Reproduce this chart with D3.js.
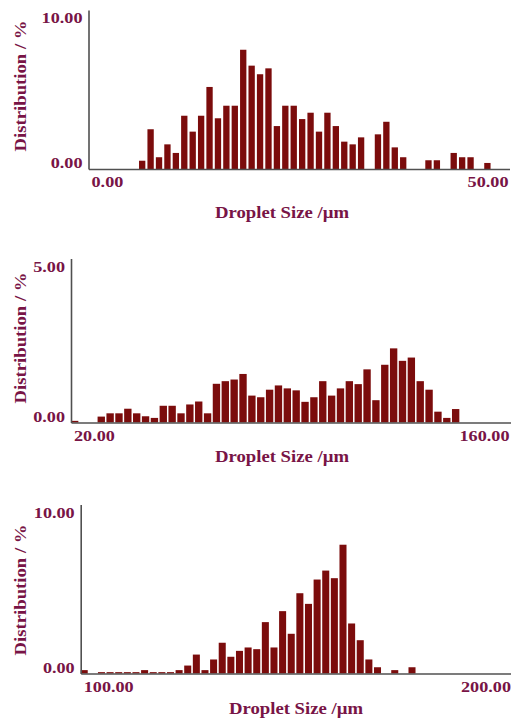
<!DOCTYPE html>
<html>
<head>
<meta charset="utf-8">
<script src="https://cdn.jsdelivr.net/npm/d3@7"></script>
<style>
  html, body { margin: 0; padding: 0; background: #fff; }
  svg { display: block; }
</style>
</head>
<body>
<svg id="chart" width="511" height="722"></svg>
<script>
// Droplet size distributions: 50 equal-width size classes per sample, % of droplets per class
const sizeRange1 = [0, 50];
const distribution1 = [
  0, 0, 0, 0, 0, 0, 0.52, 2.50, 0.74, 1.55,
  1.01, 3.35, 2.35, 3.35, 5.16, 3.19, 3.98, 3.98, 7.50, 6.50,
  5.96, 6.33, 2.70, 3.98, 3.98, 3.14, 3.54, 2.35, 3.54, 2.70,
  1.72, 1.55, 1.99, 0, 2.18, 2.97, 1.36, 0.74, 0, 0,
  0.55, 0.55, 0, 1.01, 0.74, 0.74, 0, 0.38, 0, 0
];
const yMax1 = 10;

const sizeRange2 = [20, 160];
const distribution2 = [
  0.05, 0, 0, 0.18, 0.28, 0.28, 0.42, 0.28, 0.19, 0.14,
  0.51, 0.51, 0.28, 0.55, 0.64, 0.28, 1.18, 1.26, 1.31, 1.48,
  0.82, 0.77, 1.00, 1.13, 1.04, 0.98, 0.63, 0.77, 1.26, 0.82,
  1.04, 1.26, 1.17, 1.62, 0.68, 1.76, 2.26, 1.88, 1.98, 1.26,
  1.00, 0.33, 0.14, 0.41, 0, 0, 0, 0, 0, 0
];
const yMax2 = 5;

const sizeRange3 = [100, 200];
const distribution3 = [
  0.20, 0, 0.08, 0.08, 0.08, 0.08, 0.08, 0.20, 0.08, 0.08,
  0.08, 0.20, 0.47, 1.12, 0.20, 0.83, 1.82, 0.99, 1.34, 1.54,
  1.44, 3.04, 1.54, 3.69, 2.35, 4.75, 4.12, 5.56, 6.09, 5.64,
  7.62, 2.96, 1.97, 0.83, 0.37, 0, 0.20, 0, 0.37, 0,
  0, 0, 0, 0, 0, 0, 0, 0, 0, 0
];
const yMax3 = 10;

const xAxisTitle = "Droplet Size /\u00b5m";
const yAxisTitle = "Distribution / %";

// Layout and styling of the three stacked panels
const layout = [
  { left: 88.5, right: 509.5, top: 10,    base: 169,   gap: 2.1, endLabelDx: -1.5, titleX: 282, titleY: 218, yTitleY: 86 },
  { left: 71,   right: 514,   top: 258.5, base: 422.5, gap: 1.5, endLabelDx: -5,   titleX: 282, titleY: 462, yTitleY: 338 },
  { left: 80.7, right: 512,   top: 504.5, base: 673.5, gap: 1.6, endLabelDx: -1.5, titleX: 296, titleY: 714, yTitleY: 590 }
];
const series = [
  { range: sizeRange1, values: distribution1, yMax: yMax1 },
  { range: sizeRange2, values: distribution2, yMax: yMax2 },
  { range: sizeRange3, values: distribution3, yMax: yMax3 }
];

const BAR = "#7b0c0c";
const TEXT = "#781446";
const AXIS = "#505050";
const FONT = "'Liberation Serif', 'Times New Roman', serif";
const fmt = d3.format(".2f");

const svg = d3.select("#chart");

series.forEach((s, k) => {
  const L = layout[k];
  const g = svg.append("g");
  const x = d3.scaleLinear().domain(s.range).range([L.left, L.right]);
  const y = d3.scaleLinear().domain([0, s.yMax]).range([L.base, L.top]);
  const n = s.values.length;
  const binW = (s.range[1] - s.range[0]) / n;

  // bars: each size class starts at its lower edge
  g.selectAll("rect.bar")
    .data(s.values.map((v, i) => ({ lo: s.range[0] + i * binW, hi: s.range[0] + (i + 1) * binW, v })))
    .join("rect")
    .attr("class", "bar")
    .attr("x", d => x(d.lo))
    .attr("width", d => x(d.hi) - x(d.lo) - L.gap)
    .attr("y", d => y(d.v))
    .attr("height", d => y(0) - y(d.v))
    .attr("fill", BAR);

  // x axis: baseline with end labels only
  const xAxis = g.append("g")
    .attr("transform", `translate(0,${L.base})`)
    .call(d3.axisBottom(x).tickValues(s.range).tickSize(0).tickSizeOuter(0).tickFormat(fmt));
  xAxis.select(".domain").attr("stroke", AXIS).attr("stroke-width", 1.6);
  xAxis.selectAll(".tick text")
    .attr("x", 0).attr("y", 0).attr("dy", null)
    .attr("fill", TEXT)
    .attr("font-family", FONT).attr("font-weight", "bold").attr("font-size", 14)
    .attr("text-anchor", (d, i) => i === 0 ? "start" : "end")
    .attr("transform", (d, i) => `translate(${i === 0 ? 2.5 : L.endLabelDx},18) scale(1.3,1)`);

  // y axis: vertical line with min / max labels
  const yAxis = g.append("g")
    .attr("transform", `translate(${L.left},0)`)
    .call(d3.axisLeft(y).tickValues([0, s.yMax]).tickSize(0).tickSizeOuter(0).tickFormat(fmt));
  yAxis.select(".domain").attr("stroke", AXIS).attr("stroke-width", 1.6);
  yAxis.selectAll(".tick text")
    .attr("x", 0).attr("y", 0).attr("dy", null)
    .attr("fill", TEXT)
    .attr("font-family", FONT).attr("font-weight", "bold").attr("font-size", 14)
    .attr("text-anchor", "end")
    .attr("transform", d => `translate(-6,${d === 0 ? -1.5 : 12.5}) scale(1.3,1)`);

  // axis titles
  g.append("text")
    .attr("transform", `translate(${L.titleX},${L.titleY}) scale(1.17,1)`)
    .attr("text-anchor", "middle")
    .attr("fill", TEXT)
    .attr("font-family", FONT).attr("font-weight", "bold").attr("font-size", 16)
    .text(xAxisTitle);

  g.append("text")
    .attr("transform", `translate(26,${L.yTitleY}) rotate(-90) scale(1.17,1)`)
    .attr("text-anchor", "middle")
    .attr("fill", TEXT)
    .attr("font-family", FONT).attr("font-weight", "bold").attr("font-size", 16)
    .text(yAxisTitle);
});
</script>
</body>
</html>
